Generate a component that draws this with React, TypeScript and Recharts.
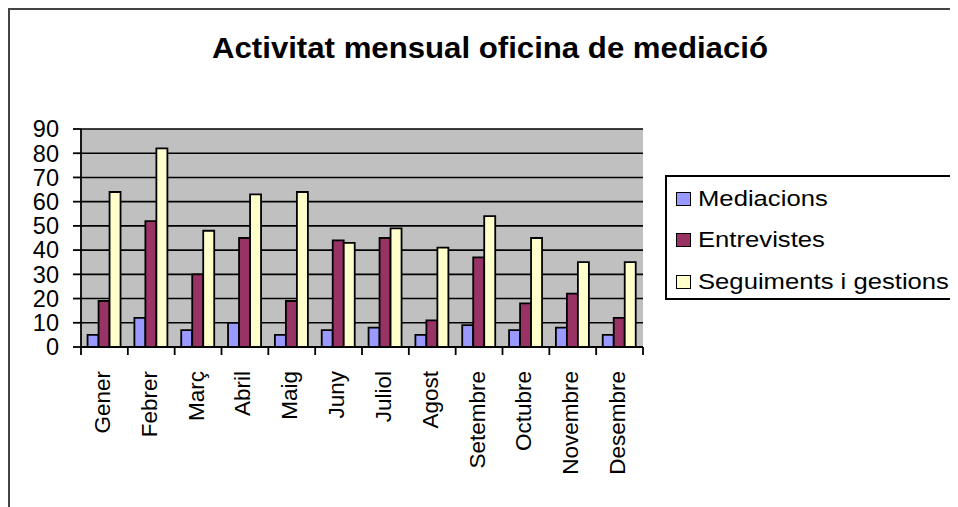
import React from 'react';
import { BarChart, Bar, XAxis, YAxis, CartesianGrid } from 'recharts';

const months = ['Gener', 'Febrer', 'Març', 'Abril', 'Maig', 'Juny', 'Juliol', 'Agost', 'Setembre', 'Octubre', 'Novembre', 'Desembre'];
const mediacions = [5, 12, 7, 10, 5, 7, 8, 5, 9, 7, 8, 5];
const entrevistes = [19, 52, 30, 45, 19, 44, 45, 11, 37, 18, 22, 12];
const seguiments = [64, 82, 48, 63, 64, 43, 49, 41, 54, 45, 35, 35];
const yTicks = [0, 10, 20, 30, 40, 50, 60, 70, 80, 90];

const seriesNames = ['Mediacions', 'Entrevistes', 'Seguiments i gestions'];
const seriesKeys = ['med', 'ent', 'seg'];
const seriesColors = ['#9999FF', '#993366', '#FFFFCC'];
const title = 'Activitat mensual oficina de mediació';

const data = months.map((m, i) => ({
  month: m,
  med: mediacions[i],
  ent: entrevistes[i],
  seg: seguiments[i],
}));

const FONT = '"Liberation Sans", Arial, sans-serif';
const CHART_W = 948;
const CHART_H = 497;
const MARGIN = { top: 119, right: 315, bottom: 10, left: 0 };
const Y_W = 71;
const PLOT_W = CHART_W - MARGIN.right - MARGIN.left - Y_W;

const XTick = (props: any) => {
  const { x, y, payload, index } = props;
  const half = payload && typeof payload.offset === 'number' && payload.offset > 0 ? payload.offset : PLOT_W / months.length / 2;
  const last = index === months.length - 1;
  const ty = y + 24;
  return (
    <g>
      <line x1={x - half} y1={y} x2={x - half} y2={y + 8} stroke="#000" strokeWidth={1.8} />
      {last && <line x1={x + half} y1={y} x2={x + half} y2={y + 8} stroke="#000" strokeWidth={1.8} />}
      <text
        x={x - 2}
        y={ty}
        transform={`rotate(-90, ${x - 2}, ${ty})`}
        textAnchor="end"
        dominantBaseline="central"
        fontSize={22.5}
        fontFamily={FONT}
        fill="#000"
      >
        {payload.value}
      </text>
    </g>
  );
};

export default function App() {
  return (
    <div
      style={{
        position: 'relative',
        width: 950,
        height: 499,
        borderTop: '2px solid #444',
        borderLeft: '2px solid #444',
        background: '#fff',
        boxSizing: 'border-box',
        fontFamily: FONT,
      }}
    >
      <svg width={CHART_W} height={70} style={{ position: 'absolute', left: 0, top: 0 }}>
        <text
          x={480}
          y={48}
          textAnchor="middle"
          fontSize={29}
          fontWeight="bold"
          fontFamily={FONT}
          fill="#000"
          textLength={556}
          lengthAdjust="spacingAndGlyphs"
        >
          {title}
        </text>
      </svg>
      <div style={{ position: 'absolute', left: 0, top: 0 }}>
        <BarChart
          width={CHART_W}
          height={CHART_H}
          data={data}
          margin={MARGIN}
          barCategoryGap="14%"
          barGap={0}
        >
          <CartesianGrid vertical={false} stroke="#000" strokeWidth={1.6} fill="#C0C0C0" fillOpacity={1} />
          <XAxis
            dataKey="month"
            interval={0}
            height={150}
            tickSize={0}
            tickMargin={0}
            tickLine={false}
            axisLine={{ stroke: '#000', strokeWidth: 1.8 }}
            tick={<XTick />}
          />
          <YAxis
            width={Y_W}
            domain={[0, 90]}
            ticks={yTicks}
            interval={0}
            tickSize={8}
            tickMargin={14}
            axisLine={{ stroke: '#000', strokeWidth: 1.8 }}
            tickLine={{ stroke: '#000', strokeWidth: 1.8 }}
            tick={{ fill: '#000', fontSize: 23.5, fontFamily: FONT }}
          />
          {seriesKeys.map((k, i) => (
            <Bar
              key={k}
              dataKey={k}
              name={seriesNames[i]}
              fill={seriesColors[i]}
              stroke="#000"
              strokeWidth={1.8}
              isAnimationActive={false}
            />
          ))}
        </BarChart>
      </div>
      <div
        style={{
          position: 'absolute',
          left: 655,
          top: 165,
          width: 293,
          height: 125,
          borderTop: '2px solid #000',
          borderLeft: '2px solid #000',
          borderBottom: '2px solid #000',
          background: '#fff',
          boxSizing: 'border-box',
          paddingTop: 1,
          overflow: 'visible',
        }}
      >
        {seriesNames.map((n, i) => (
          <div key={n} style={{ height: 41.5, display: 'flex', alignItems: 'center', position: 'relative' }}>
            <span
              style={{
                position: 'absolute',
                left: 9,
                width: 15,
                height: 14,
                border: '1.5px solid #000',
                background: seriesColors[i],
                boxSizing: 'border-box',
              }}
            />
            <span
              style={{
                position: 'absolute',
                left: 31,
                fontSize: 22.5,
                lineHeight: '26px',
                color: '#000',
                whiteSpace: 'nowrap',
                display: 'inline-block',
                transform: 'scaleX(1.14)',
                transformOrigin: 'left center',
              }}
            >
              {n}
            </span>
          </div>
        ))}
      </div>
    </div>
  );
}
